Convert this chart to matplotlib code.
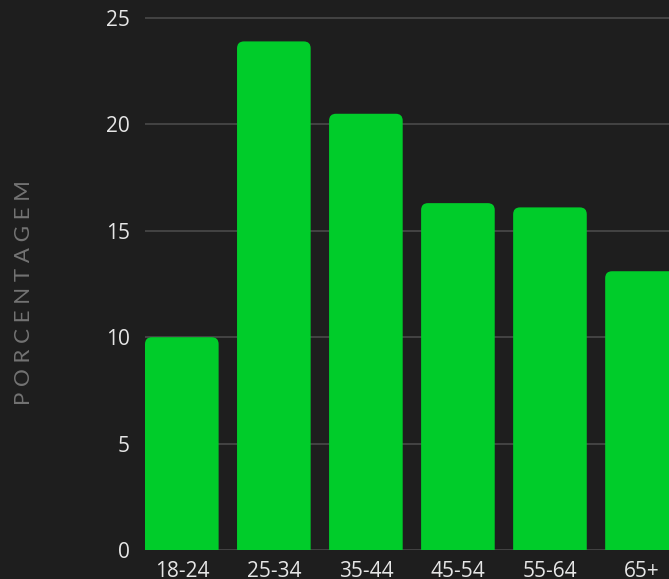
import matplotlib
matplotlib.use("Agg")
import matplotlib.pyplot as plt
from matplotlib.patches import FancyBboxPatch

faixas = ["18-24", "25-34", "35-44", "45-54", "55-64", "65+"]
porcentagem = [10.0, 23.9, 20.5, 16.3, 16.1, 13.1]
yticks = [0, 5, 10, 15, 20, 25]

fundo = "#1e1e1e"
verde = "#00cc2a"

fig = plt.figure(figsize=(6.69, 5.79), dpi=100, facecolor=fundo)
ax = fig.add_axes([145 / 669, 29 / 579, 524 / 669, 540 / 579])
ax.set_facecolor(fundo)

x = list(range(len(faixas)))
barras = ax.bar(x, porcentagem, width=0.8, color=verde, zorder=3)

ax.set_xlim(-0.4, (669 - 182) / 92)
ax.set_ylim(0, 540 / 21.28)

# cantos arredondados no topo (a base fica escondida abaixo do eixo)
for b in barras:
    b.set_visible(False)
    x0, w, h = b.get_x(), b.get_width(), b.get_height()
    p = FancyBboxPatch((x0, -1), w, h + 1,
                       boxstyle="round,pad=0,rounding_size=0.075",
                       mutation_aspect=92 / 21.28,
                       facecolor=verde, edgecolor="none", zorder=3)
    ax.add_patch(p)

ax.set_yticks(yticks)
ax.set_xticks(x)
ax.set_xticklabels(faixas)
ax.grid(axis="y", color="#4a4a4a", linewidth=1.2, zorder=0)
ax.tick_params(length=0, colors="#e6e6e6", labelsize=15)
ax.tick_params(axis="y", pad=11)
ax.tick_params(axis="x", pad=8)
for lbl in ax.get_xticklabels() + ax.get_yticklabels():
    lbl.set_fontfamily("Open Sans")
for s in ax.spines.values():
    s.set_visible(False)

fig.text(24 / 669, 1 - 293 / 579, " ".join("PORCENTAGEM"), rotation=90,
         ha="center", va="center", color="#737373", fontsize=16,
         fontfamily="Lato")

fig.savefig("out.png", dpi=100, facecolor=fundo)
